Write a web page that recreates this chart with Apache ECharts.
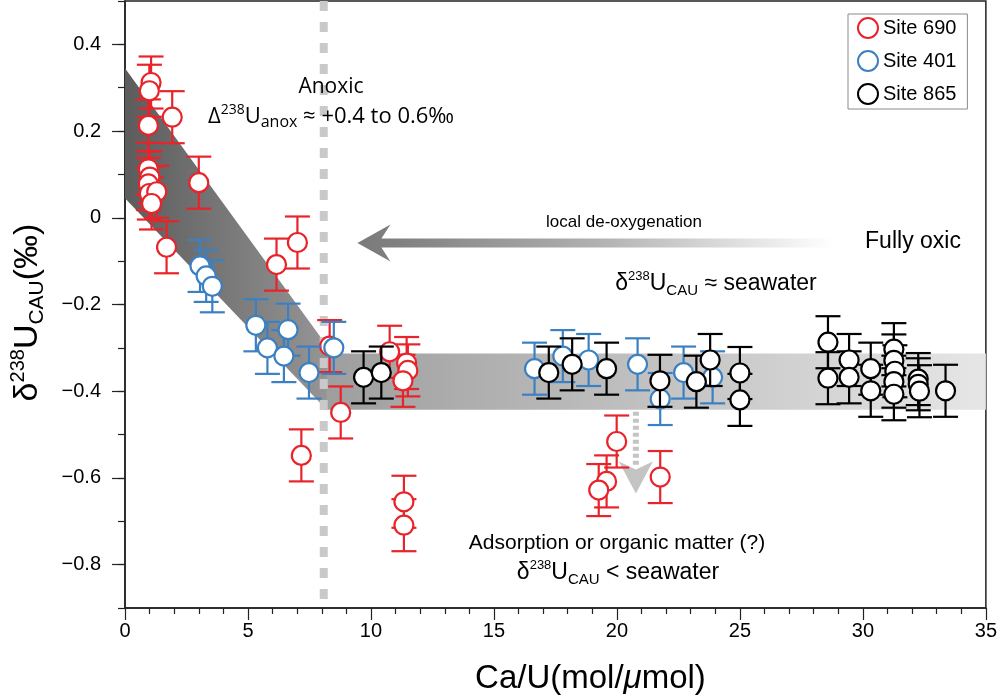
<!DOCTYPE html>
<html><head><meta charset="utf-8">
<script src="https://cdn.jsdelivr.net/npm/echarts@6/dist/echarts.min.js"></script>
<style>html,body{margin:0;padding:0;background:#fff}#c{width:1000px;height:700px}</style>
</head><body><div id="c"></div>
<script>
// ---- data (Ca/U, delta238U) ----
const site690 = [[1.06,0.312],[0.99,0.293],[1.92,0.232],[0.95,0.213],[3.0,0.081],[0.95,0.113],[1.01,0.094],[0.95,0.078],[0.99,0.056],[1.29,0.06],[1.08,0.033],[1.69,-0.068],[6.16,-0.108],[7.01,-0.057],[8.32,-0.296],[8.77,-0.449],[10.76,-0.309],[11.45,-0.335],[11.5,-0.352],[11.3,-0.376],[7.17,-0.548],[11.34,-0.655],[11.34,-0.709],[19.99,-0.516],[19.58,-0.608],[19.26,-0.628],[21.76,-0.598]];
const site401 = [[3.05,-0.111],[3.3,-0.134],[3.55,-0.158],[5.32,-0.248],[6.63,-0.258],[5.79,-0.300],[6.46,-0.319],[7.48,-0.357],[8.49,-0.300],[16.65,-0.348],[17.8,-0.319],[18.85,-0.328],[20.84,-0.338],[21.76,-0.418],[22.71,-0.357],[23.89,-0.368]];
const site865 = [[9.7,-0.368],[10.42,-0.357],[17.23,-0.357],[18.18,-0.338],[19.58,-0.348],[21.75,-0.376],[23.23,-0.378],[23.79,-0.328],[25.0,-0.358],[25.0,-0.42],[28.58,-0.287],[28.58,-0.37],[29.44,-0.328],[29.44,-0.368],[30.32,-0.348],[30.32,-0.399],[31.26,-0.303],[31.26,-0.329],[31.3,-0.354],[31.26,-0.378],[31.26,-0.407],[32.25,-0.372],[32.25,-0.384],[32.3,-0.4],[33.36,-0.399]];
const errHalf = 0.06;
const seriesNames = ['Site 690','Site 401','Site 865'];
const seriesColors = ['#e8232a','#3b80c2','#000000'];
const yTickLabels = ['−0.9','−0.8','−0.7','−0.6','−0.5','−0.4','−0.3','−0.2','−0.1','0','0.1','0.2','0.3','0.4','0.5'];
const anoxBand = [[0,0.345],[8.4,-0.31],[8.2,-0.443],[0,0.045]];
const oxicBand = [[8.2,-0.313],[35,-0.313],[35,-0.443],[8.2,-0.443]];
const redoxLine = [[8.08,0.5],[8.08,-0.9]];
const deoxArrow = [[28.8,-0.058],[9.45,-0.058]];
const sinkArrow = [[20.77,-0.443],[20.77,-0.636]];

const chart = echarts.init(document.getElementById('c'));
const FONT = 'Liberation Sans, Arial, Helvetica, sans-serif';

function errSeries(idx, data){
  const color = seriesColors[idx];
  return {
    type:'custom', name: seriesNames[idx]+'-err', silent:true, z:3+idx*2,
    data: data.map(d=>[d[0], d[1]-errHalf, d[1]+errHalf]),
    encode:{x:0, y:[1,2]},
    renderItem(params, api){
      const x = api.value(0);
      const lo = api.coord([x, api.value(1)]);
      const hi = api.coord([x, api.value(2)]);
      const w = 12.5, st = {stroke:color, lineWidth:2.2};
      return {type:'group', children:[
        {type:'line', shape:{x1:lo[0],y1:lo[1],x2:hi[0],y2:hi[1]}, style:st},
        {type:'line', shape:{x1:lo[0]-w,y1:lo[1],x2:lo[0]+w,y2:lo[1]}, style:st},
        {type:'line', shape:{x1:hi[0]-w,y1:hi[1],x2:hi[0]+w,y2:hi[1]}, style:st}
      ]};
    }
  };
}
function scatSeries(idx, data){
  return {
    type:'scatter', name: seriesNames[idx], data: data, z:4+idx*2,
    symbol:'circle', symbolSize:19,
    itemStyle:{color:'#ffffff', borderColor:seriesColors[idx], borderWidth:2.2, opacity:1}
  };
}
function polySeries(points, grad, z){
  return {
    type:'custom', silent:true, z:z, data:[0],
    renderItem(params, api){
      return {type:'polygon', shape:{points: points.map(p=>api.coord(p))},
        style:{fill: new echarts.graphic.LinearGradient(0,0,1,0,grad)}};
    }
  };
}

const option = {
  animation:false,
  backgroundColor:'#ffffff',
  grid:{left:125, right:13, top:1, bottom:90, show:true, borderColor:'#222', borderWidth:1.5, backgroundColor:'transparent'},
  legend:{
    orient:'vertical', left:848, top:14, padding:[3,11,4,9], itemGap:11,
    itemWidth:20, itemHeight:20, backgroundColor:'#fff', borderColor:'#8a8a8a', borderWidth:1,
    textStyle:{fontSize:20, fontFamily:FONT, color:'#000'},
    data: seriesNames.map((n,i)=>({name:n, icon:'circle',
      itemStyle:{color:'#fff', borderColor:seriesColors[i], borderWidth:2}}))
  },
  xAxis:{
    type:'value', min:0, max:35, interval:5,
    name:'Ca/U(mol/{i|μ}mol)', nameLocation:'middle', nameGap:54,
    nameTextStyle:{fontSize:33, fontFamily:FONT, color:'#000', padding:[0,0,0,70],
      rich:{i:{fontSize:33, fontStyle:'italic', fontFamily:FONT}}},
    axisLine:{show:true, onZero:false, lineStyle:{color:'#222', width:1.5}},
    axisTick:{show:true, length:12, lineStyle:{color:'#222', width:1.2}},
    minorTick:{show:true, splitNumber:5, length:6, lineStyle:{color:'#222', width:1.2}},
    axisLabel:{fontSize:20, fontFamily:FONT, color:'#000', margin:13},
    splitLine:{show:false}
  },
  yAxis:[{
    type:'value', min:-0.9, max:0.5, interval:0.1, position:'left',
    name:'δ{s|238}U{b|CAU}(‰)', nameLocation:'middle', nameGap:77, nameRotate:90,
    nameTextStyle:{fontSize:34, fontFamily:FONT, color:'#000', lineHeight:40, verticalAlign:'bottom', padding:[0,16,0,0],
      rich:{s:{fontSize:20, lineHeight:20, verticalAlign:'top', fontFamily:FONT, color:'#000'},
            b:{fontSize:21, lineHeight:21, verticalAlign:'bottom', fontFamily:FONT, color:'#000'}}},
    axisLine:{show:true, onZero:false, lineStyle:{color:'#222', width:1.5}},
    axisTick:{show:true, length:7, lineStyle:{color:'#222', width:1.2}},
    axisLabel:{show:false},
    splitLine:{show:false}
  },{
    type:'category', data:yTickLabels, boundaryGap:false, position:'left',
    axisLine:{show:false, onZero:false},
    axisTick:{show:true, length:13, interval:(i)=> i%2===1, lineStyle:{color:'#222', width:1.2}},
    axisLabel:{show:true, interval:(i)=> i%2===1, fontSize:20, fontFamily:FONT, color:'#000', margin:24},
    splitLine:{show:false}
  }],
  series:[
    polySeries(anoxBand, [{offset:0,color:'#5c5c5c'},{offset:1,color:'#969696'}], 1),
    polySeries(oxicBand, [{offset:0,color:'#9e9e9e'},{offset:1,color:'#e6e6e6'}], 1),
    { type:'custom', silent:true, z:2, data:[0],
      renderItem(params, api){
        const a = api.coord(redoxLine[0]), b = api.coord(redoxLine[1]);
        return {type:'line', shape:{x1:a[0],y1:a[1],x2:b[0],y2:b[1]},
          style:{stroke:'#c9c9c9', lineWidth:8, lineDash:[10,11]}};
      }},
    { type:'custom', silent:true, z:2, data:[0],
      renderItem(params, api){
        const tail = api.coord(deoxArrow[0]), tip = api.coord(deoxArrow[1]);
        const tx = tip[0], ty = tip[1], sx = tail[0], h = 4.5;
        const pts = [[tx,ty],[tx+33,ty-18.5],[tx+24,ty-h],[sx,ty-h],[sx,ty+h],[tx+24,ty+h],[tx+33,ty+18.5]];
        return {type:'polygon', shape:{points:pts},
          style:{fill:new echarts.graphic.LinearGradient(0,0,1,0,[
            {offset:0,color:'#7a7a7a'},{offset:0.08,color:'#808080'},{offset:0.5,color:'#b0b0b0'},{offset:1,color:'#ffffff'}])}};
      }},
    { type:'custom', silent:true, z:2, data:[0],
      renderItem(params, api){
        const top = api.coord(sinkArrow[0]), tip = api.coord(sinkArrow[1]);
        const x = tip[0], ty = tip[1];
        return {type:'group', children:[
          {type:'line', shape:{x1:top[0], y1:top[1]+2, x2:x, y2:ty-26}, style:{stroke:'#c4c4c4', lineWidth:6, lineDash:[4,3]}},
          {type:'polygon', shape:{points:[[x,ty],[x-17,ty-32],[x,ty-24],[x+17,ty-32]]}, style:{fill:'#c4c4c4'}}
        ]};
      }},
    errSeries(0, site690), scatSeries(0, site690),
    errSeries(1, site401), scatSeries(1, site401),
    errSeries(2, site865), scatSeries(2, site865)
  ],
  graphic:[
    {type:'text', x:331, y:87, z:50, style:{text:'Anoxic', font:'21px "Open Sans", sans-serif', fill:'#000', align:'center', verticalAlign:'middle'}},
    {type:'text', x:331, y:117, z:50, style:{
      text:'{a|Δ}{s|238}{a|U}{b|anox}{a| ≈ +0.4 to 0.6‰}', align:'center', verticalAlign:'middle',
      rich:{a:{fontSize:22, lineHeight:27, fontFamily:'Open Sans', fill:'#000', verticalAlign:'middle'},
            s:{fontSize:14, lineHeight:14, fontFamily:'Open Sans', fill:'#000', verticalAlign:'top'},
            b:{fontSize:16, lineHeight:16, fontFamily:'Open Sans', fill:'#000', verticalAlign:'bottom'}}}},
    {type:'text', x:624, y:222, z:50, style:{text:'local de-oxygenation', font:'17px "Liberation Sans", Arial, sans-serif', fill:'#000', align:'center', verticalAlign:'middle'}},
    {type:'text', x:913, y:242, z:50, style:{text:'Fully oxic', font:'23px "Liberation Sans", Arial, sans-serif', fill:'#000', align:'center', verticalAlign:'middle'}},
    {type:'text', x:716, y:284, z:50, style:{
      text:'{a|δ}{s|238}{a|U}{b|CAU}{a| ≈ seawater}', align:'center', verticalAlign:'middle',
      rich:{a:{fontSize:23, lineHeight:28, fontFamily:FONT, fill:'#000', verticalAlign:'middle'},
            s:{fontSize:13, lineHeight:13, fontFamily:FONT, fill:'#000', verticalAlign:'top'},
            b:{fontSize:15, lineHeight:15, fontFamily:FONT, fill:'#000', verticalAlign:'bottom'}}}},
    {type:'text', x:617, y:543, z:50, style:{text:'Adsorption or organic matter (?)', font:'21px "Liberation Sans", Arial, sans-serif', fill:'#000', align:'center', verticalAlign:'middle'}},
    {type:'text', x:618, y:573, z:50, style:{
      text:'{a|δ}{s|238}{a|U}{b|CAU}{a| < seawater}', align:'center', verticalAlign:'middle',
      rich:{a:{fontSize:23, lineHeight:28, fontFamily:FONT, fill:'#000', verticalAlign:'middle'},
            s:{fontSize:13, lineHeight:13, fontFamily:FONT, fill:'#000', verticalAlign:'top'},
            b:{fontSize:15, lineHeight:15, fontFamily:FONT, fill:'#000', verticalAlign:'bottom'}}}}
  ]
};
chart.setOption(option);
</script></body></html>
